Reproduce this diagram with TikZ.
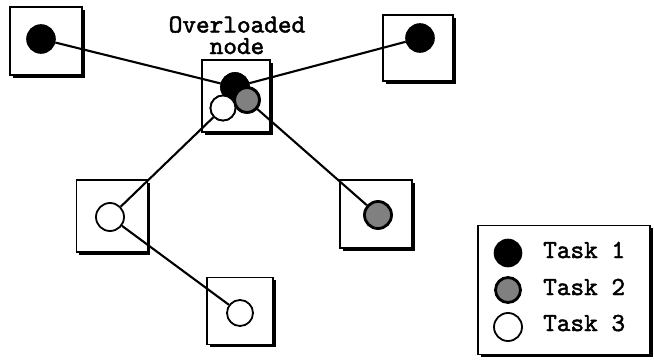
\documentclass[tikz,border=0pt]{standalone}
\usepackage{fontspec}
\newfontfamily\tasktt[FakeBold=1.8]{lmmono10-regular.otf}
\usetikzlibrary{shadows}
\begin{document}
\begin{tikzpicture}[x=1pt,y=-1pt,
  frame/.style={draw=black, line width=1.8pt, fill=white, rectangle, inner sep=0pt,
    drop shadow={shadow xshift=2.8pt, shadow yshift=-2.8pt, fill=black, opacity=1}},
  tone/.style={circle, draw=black, line width=1.6pt, inner sep=0pt, minimum size=#1},
  tone/.default=28pt,
  taskone/.style={tone, fill=black},
  tasktwo/.style={tone, fill=black!50, line width=2.8pt, minimum size=25pt},
  taskthree/.style={tone, fill=white, line width=1.8pt},
  link/.style={line width=2.1pt},
  lbl/.style={font=\fontsize{26}{21.5}\selectfont\tasktt, inner sep=0pt}
]
\useasboundingbox (0,0) rectangle (654,364);

% boxes
\node[frame, minimum width=72pt, minimum height=68pt] (b1) at (46,41) {};
\node[frame, minimum width=70pt, minimum height=66pt] (b2) at (418,48) {};
\node[frame, minimum width=68pt, minimum height=72pt] (bc) at (236,96) {};
\node[frame, minimum width=71pt, minimum height=72pt] (b3) at (112,216) {};
\node[frame, minimum width=66pt, minimum height=67pt] (b4) at (240,311) {};
\node[frame, minimum width=72pt, minimum height=68pt] (b5) at (376,214) {};
\node[frame, minimum width=172pt, minimum height=129pt] (leg) at (564,290) {};

% circles
\node[taskone] (c1) at (41,39) {};
\node[taskone] (c2) at (420,38) {};
\node[taskone] (cb) at (235,87) {};
\node[tasktwo] (cg) at (247,100) {};
\node[taskthree, minimum size=25pt] (cw) at (223,108) {};
\node[taskthree] (c3) at (110,217) {};
\node[taskthree, minimum size=26pt] (c4) at (240,313) {};
\node[tasktwo, minimum size=27pt] (c5) at (378,215) {};

% connectors
\draw[link] (c1) -- (cb);
\draw[link] (c2) -- (cb);
\draw[link] (cw) -- (c3);
\draw[link] (cg) -- (c5);
\draw[link] (c3) -- (c4);

% redraw overlapping circles on top
\node[taskone] at (cb) {};
\node[tasktwo] at (cg) {};
\node[taskthree, minimum size=25pt] at (cw) {};

% label
\node[lbl, align=center, anchor=base] (t1) at (237,54) {Overloaded\\node};

% legend
\node[taskone, minimum size=27pt] (l1) at (508,253) {};
\node[tasktwo, minimum size=25pt] (l2) at (508,290) {};
\node[taskthree, minimum size=28pt] (l3) at (508,327) {};
\node[lbl, anchor=base west] (k1) at (543,258) {Task 1};
\node[lbl, anchor=base west] (k2) at (543,295) {Task 2};
\node[lbl, anchor=base west] (k3) at (543,331) {Task 3};
\end{tikzpicture}
\end{document}
